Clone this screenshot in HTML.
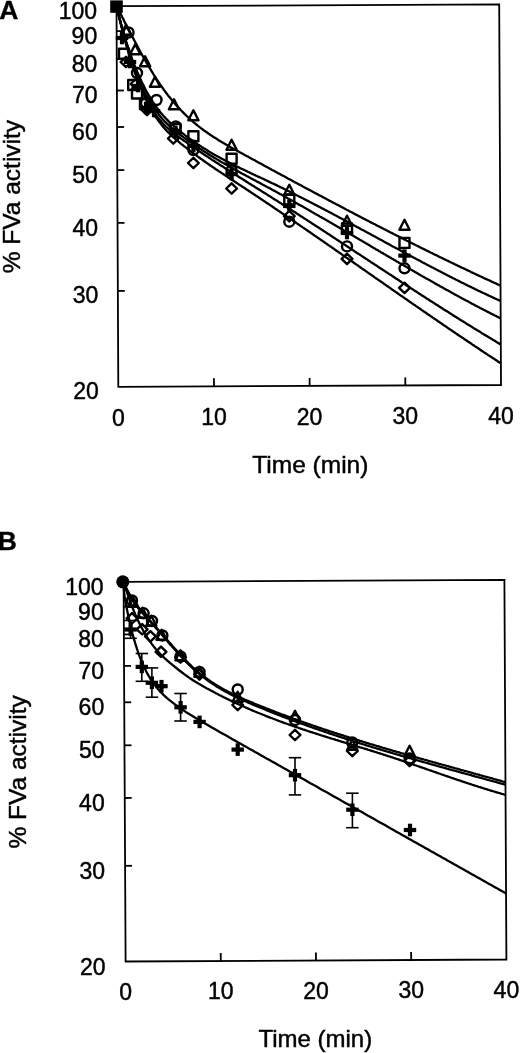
<!DOCTYPE html>
<html><head><meta charset="utf-8"><title>FVa activity</title>
<style>html,body{margin:0;padding:0;background:#fff;width:520px;height:1053px;overflow:hidden}svg{display:block;will-change:transform}</style>
</head><body>
<svg width="520" height="1053" viewBox="0 0 520 1053">
<style>.t{font-family:"Liberation Sans",sans-serif;font-size:23px;fill:#000;stroke:#000;stroke-width:0.45px}.h{font-family:"Liberation Sans",sans-serif;font-size:24.5px;fill:#000;stroke:#000;stroke-width:0.45px}.b{font-family:"Liberation Sans",sans-serif;font-size:26.5px;font-weight:bold;fill:#000;stroke:#000;stroke-width:0.3px}.m{fill:none;stroke:#000;stroke-width:2.4;stroke-linejoin:round}</style>
<rect width="520" height="1053" fill="#fff"/>
<polygon points="116.5,6.2 499.2,4.4 501.0,385.0 118.3,386.8" fill="none" stroke="#000" stroke-width="1.8" stroke-linejoin="miter"/>
<line x1="116.6" y1="31.1" x2="123.6" y2="31.1" stroke="#000" stroke-width="1.8"/>
<line x1="116.7" y1="59.0" x2="123.7" y2="58.9" stroke="#000" stroke-width="1.8"/>
<line x1="116.9" y1="90.5" x2="123.9" y2="90.5" stroke="#000" stroke-width="1.8"/>
<line x1="117.1" y1="127.0" x2="124.1" y2="127.0" stroke="#000" stroke-width="1.8"/>
<line x1="117.3" y1="170.1" x2="124.3" y2="170.1" stroke="#000" stroke-width="1.8"/>
<line x1="117.5" y1="222.9" x2="124.5" y2="222.8" stroke="#000" stroke-width="1.8"/>
<line x1="117.8" y1="290.9" x2="124.8" y2="290.9" stroke="#000" stroke-width="1.8"/>
<line x1="214.0" y1="386.3" x2="213.9" y2="378.3" stroke="#000" stroke-width="1.8"/>
<line x1="309.6" y1="385.9" x2="309.6" y2="377.9" stroke="#000" stroke-width="1.8"/>
<line x1="405.3" y1="385.4" x2="405.3" y2="377.4" stroke="#000" stroke-width="1.8"/>
<polygon points="123.6,581.8 504.4,579.8 506.4,959.5 125.6,961.5" fill="none" stroke="#000" stroke-width="1.8" stroke-linejoin="miter"/>
<line x1="123.7" y1="606.7" x2="130.7" y2="606.6" stroke="#000" stroke-width="1.8"/>
<line x1="123.9" y1="634.4" x2="130.9" y2="634.4" stroke="#000" stroke-width="1.8"/>
<line x1="124.0" y1="665.9" x2="131.0" y2="665.9" stroke="#000" stroke-width="1.8"/>
<line x1="124.2" y1="702.3" x2="131.2" y2="702.3" stroke="#000" stroke-width="1.8"/>
<line x1="124.5" y1="745.3" x2="131.5" y2="745.3" stroke="#000" stroke-width="1.8"/>
<line x1="124.7" y1="798.0" x2="131.7" y2="797.9" stroke="#000" stroke-width="1.8"/>
<line x1="125.1" y1="865.8" x2="132.1" y2="865.8" stroke="#000" stroke-width="1.8"/>
<line x1="220.8" y1="961.0" x2="220.7" y2="953.0" stroke="#000" stroke-width="1.8"/>
<line x1="316.0" y1="960.5" x2="315.9" y2="952.5" stroke="#000" stroke-width="1.8"/>
<line x1="411.2" y1="960.0" x2="411.1" y2="952.0" stroke="#000" stroke-width="1.8"/>
<path d="M116.5,5.8 L117.8,8.3 L119.1,10.9 L120.4,13.4 L121.7,16.0 L123.0,18.5 L124.2,21.1 L125.5,23.6 L126.8,26.1 L128.1,28.6 L129.4,31.1 L130.7,33.6 L132.0,36.1 L133.3,38.5 L134.6,41.0 L135.9,43.4 L137.2,45.8 L138.5,48.2 L139.7,50.6 L141.0,53.0 L142.3,55.3 L143.6,57.6 L144.9,59.9 L146.2,62.1 L147.5,64.4 L148.8,66.6 L150.1,68.7 L151.4,70.9 L152.7,73.0 L153.9,75.0 L155.2,77.1 L156.5,79.1 L157.8,81.0 L159.1,83.0 L160.4,84.9 L161.7,86.7 L163.0,88.5 L164.3,90.3 L165.5,92.0 L166.8,93.7 L168.1,95.4 L169.4,97.0 L170.7,98.6 L172.0,100.2 L173.3,101.7 L174.6,103.2 L175.8,104.7 L177.1,106.1 L178.4,107.5 L179.7,108.9 L181.0,110.3 L182.3,111.6 L183.6,112.9 L184.8,114.2 L186.1,115.4 L187.4,116.6 L188.7,117.8 L190.0,119.0 L191.3,120.2 L192.6,121.3 L193.8,122.4 L195.1,123.5 L196.4,124.5 L197.7,125.6 L199.0,126.6 L200.3,127.6 L201.6,128.6 L202.8,129.5 L204.1,130.5 L205.4,131.4 L206.7,132.3 L208.0,133.2 L209.3,134.1 L210.5,135.0 L211.8,135.8 L213.1,136.7 L214.4,137.5 L215.7,138.3 L217.0,139.1 L218.2,139.9 L219.5,140.7 L220.8,141.5 L222.1,142.3 L223.4,143.0 L224.7,143.8 L225.9,144.5 L227.2,145.3 L228.5,146.0 L229.8,146.7 L231.1,147.4 L232.4,148.2 L233.6,148.9 L234.9,149.6 L236.2,150.3 L237.5,151.0 L238.8,151.7 L240.1,152.4 L241.3,153.1 L242.6,153.8 L243.9,154.5 L245.2,155.2 L246.5,155.9 L247.8,156.6 L249.0,157.3 L250.3,158.0 L251.6,158.7 L252.9,159.4 L254.2,160.1 L255.5,160.8 L256.7,161.5 L258.0,162.2 L259.3,162.9 L260.6,163.6 L261.9,164.3 L263.2,165.0 L264.4,165.7 L265.7,166.4 L267.0,167.1 L268.3,167.8 L269.6,168.5 L270.9,169.2 L272.1,169.9 L273.4,170.6 L274.7,171.3 L276.0,172.0 L277.3,172.7 L278.6,173.4 L279.8,174.0 L281.1,174.7 L282.4,175.4 L283.7,176.1 L285.0,176.8 L286.3,177.5 L287.5,178.2 L288.8,178.9 L290.1,179.6 L291.4,180.3 L292.7,181.0 L294.0,181.7 L295.2,182.4 L296.5,183.0 L297.8,183.7 L299.1,184.4 L300.4,185.1 L301.7,185.8 L302.9,186.5 L304.2,187.2 L305.5,187.9 L306.8,188.6 L308.1,189.2 L309.4,189.9 L310.6,190.6 L311.9,191.3 L313.2,192.0 L314.5,192.7 L315.8,193.4 L317.1,194.0 L318.3,194.7 L319.6,195.4 L320.9,196.1 L322.2,196.8 L323.5,197.5 L324.8,198.1 L326.0,198.8 L327.3,199.5 L328.6,200.2 L329.9,200.9 L331.2,201.5 L332.5,202.2 L333.7,202.9 L335.0,203.6 L336.3,204.3 L337.6,204.9 L338.9,205.6 L340.2,206.3 L341.4,207.0 L342.7,207.6 L344.0,208.3 L345.3,209.0 L346.6,209.7 L347.9,210.3 L349.1,211.0 L350.4,211.7 L351.7,212.3 L353.0,213.0 L354.3,213.7 L355.6,214.4 L356.8,215.0 L358.1,215.7 L359.4,216.4 L360.7,217.0 L362.0,217.7 L363.2,218.4 L364.5,219.0 L365.8,219.7 L367.1,220.4 L368.4,221.0 L369.7,221.7 L370.9,222.4 L372.2,223.0 L373.5,223.7 L374.8,224.3 L376.1,225.0 L377.4,225.7 L378.6,226.3 L379.9,227.0 L381.2,227.6 L382.5,228.3 L383.8,229.0 L385.1,229.6 L386.3,230.3 L387.6,230.9 L388.9,231.6 L390.2,232.2 L391.5,232.9 L392.8,233.5 L394.0,234.2 L395.3,234.8 L396.6,235.5 L397.9,236.1 L399.2,236.8 L400.5,237.4 L401.7,238.1 L403.0,238.7 L404.3,239.4 L405.6,240.0 L406.9,240.7 L408.2,241.3 L409.4,242.0 L410.7,242.6 L412.0,243.2 L413.3,243.9 L414.6,244.5 L415.9,245.2 L417.1,245.8 L418.4,246.4 L419.7,247.1 L421.0,247.7 L422.3,248.4 L423.6,249.0 L424.8,249.6 L426.1,250.3 L427.4,250.9 L428.7,251.5 L430.0,252.2 L431.2,252.8 L432.5,253.4 L433.8,254.1 L435.1,254.7 L436.4,255.3 L437.7,255.9 L438.9,256.6 L440.2,257.2 L441.5,257.8 L442.8,258.4 L444.1,259.1 L445.4,259.7 L446.6,260.3 L447.9,260.9 L449.2,261.5 L450.5,262.2 L451.8,262.8 L453.1,263.4 L454.3,264.0 L455.6,264.6 L456.9,265.2 L458.2,265.9 L459.5,266.5 L460.8,267.1 L462.0,267.7 L463.3,268.3 L464.6,268.9 L465.9,269.5 L467.2,270.1 L468.5,270.7 L469.7,271.3 L471.0,272.0 L472.3,272.6 L473.6,273.2 L474.9,273.8 L476.1,274.4 L477.4,275.0 L478.7,275.6 L480.0,276.2 L481.3,276.8 L482.6,277.4 L483.8,278.0 L485.1,278.6 L486.4,279.1 L487.7,279.7 L489.0,280.3 L490.3,280.9 L491.5,281.5 L492.8,282.1 L494.1,282.7 L495.4,283.3 L496.7,283.9 L498.0,284.5 L499.2,285.0 L500.5,285.6" fill="none" stroke="#000" stroke-width="2.3" stroke-linejoin="round"/>
<path d="M116.5,7.0 L117.8,12.1 L119.1,17.0 L120.4,21.8 L121.7,26.5 L123.0,31.0 L124.3,35.4 L125.6,39.6 L126.9,43.7 L128.2,47.7 L129.5,51.5 L130.8,55.2 L132.1,58.8 L133.4,62.3 L134.7,65.6 L136.0,68.8 L137.3,72.0 L138.6,75.0 L139.9,77.9 L141.2,80.7 L142.5,83.4 L143.8,86.0 L145.0,88.5 L146.3,91.0 L147.6,93.3 L148.9,95.5 L150.2,97.7 L151.5,99.8 L152.8,101.8 L154.1,103.7 L155.4,105.6 L156.7,107.4 L157.9,109.1 L159.2,110.8 L160.5,112.4 L161.8,113.9 L163.1,115.4 L164.4,116.9 L165.7,118.3 L167.0,119.6 L168.2,120.9 L169.5,122.2 L170.8,123.4 L172.1,124.6 L173.4,125.7 L174.7,126.9 L176.0,128.0 L177.2,129.1 L178.5,130.1 L179.8,131.2 L181.1,132.2 L182.4,133.2 L183.7,134.2 L184.9,135.2 L186.2,136.2 L187.5,137.1 L188.8,138.1 L190.1,139.0 L191.4,139.9 L192.7,140.8 L193.9,141.7 L195.2,142.6 L196.5,143.5 L197.8,144.4 L199.1,145.2 L200.4,146.0 L201.6,146.9 L202.9,147.7 L204.2,148.5 L205.5,149.3 L206.8,150.1 L208.1,150.9 L209.3,151.7 L210.6,152.4 L211.9,153.2 L213.2,153.9 L214.5,154.7 L215.8,155.4 L217.0,156.1 L218.3,156.8 L219.6,157.5 L220.9,158.2 L222.2,158.9 L223.5,159.6 L224.7,160.3 L226.0,161.0 L227.3,161.6 L228.6,162.3 L229.9,163.0 L231.2,163.6 L232.4,164.3 L233.7,164.9 L235.0,165.5 L236.3,166.2 L237.6,166.8 L238.9,167.4 L240.1,168.1 L241.4,168.7 L242.7,169.3 L244.0,169.9 L245.3,170.5 L246.6,171.1 L247.8,171.7 L249.1,172.3 L250.4,173.0 L251.7,173.6 L253.0,174.2 L254.2,174.8 L255.5,175.4 L256.8,176.0 L258.1,176.6 L259.4,177.1 L260.7,177.7 L261.9,178.3 L263.2,178.9 L264.5,179.5 L265.8,180.1 L267.1,180.8 L268.4,181.4 L269.6,182.0 L270.9,182.6 L272.2,183.2 L273.5,183.8 L274.8,184.4 L276.1,185.0 L277.3,185.6 L278.6,186.3 L279.9,186.9 L281.2,187.5 L282.5,188.1 L283.8,188.8 L285.0,189.4 L286.3,190.0 L287.6,190.7 L288.9,191.3 L290.2,191.9 L291.5,192.6 L292.7,193.2 L294.0,193.9 L295.3,194.5 L296.6,195.2 L297.9,195.8 L299.1,196.5 L300.4,197.1 L301.7,197.8 L303.0,198.4 L304.3,199.1 L305.6,199.7 L306.8,200.4 L308.1,201.0 L309.4,201.7 L310.7,202.4 L312.0,203.0 L313.3,203.7 L314.5,204.4 L315.8,205.0 L317.1,205.7 L318.4,206.4 L319.7,207.0 L321.0,207.7 L322.2,208.4 L323.5,209.0 L324.8,209.7 L326.1,210.4 L327.4,211.1 L328.7,211.8 L329.9,212.4 L331.2,213.1 L332.5,213.8 L333.8,214.5 L335.1,215.2 L336.4,215.8 L337.6,216.5 L338.9,217.2 L340.2,217.9 L341.5,218.6 L342.8,219.3 L344.1,220.0 L345.3,220.7 L346.6,221.3 L347.9,222.0 L349.2,222.7 L350.5,223.4 L351.8,224.1 L353.0,224.8 L354.3,225.5 L355.6,226.2 L356.9,226.9 L358.2,227.6 L359.5,228.3 L360.7,229.0 L362.0,229.7 L363.3,230.3 L364.6,231.0 L365.9,231.7 L367.2,232.4 L368.4,233.1 L369.7,233.8 L371.0,234.5 L372.3,235.2 L373.6,235.9 L374.9,236.6 L376.1,237.3 L377.4,238.0 L378.7,238.7 L380.0,239.4 L381.3,240.1 L382.6,240.8 L383.8,241.5 L385.1,242.2 L386.4,242.9 L387.7,243.6 L389.0,244.3 L390.3,245.0 L391.5,245.7 L392.8,246.4 L394.1,247.1 L395.4,247.7 L396.7,248.4 L398.0,249.1 L399.2,249.8 L400.5,250.5 L401.8,251.2 L403.1,251.9 L404.4,252.6 L405.7,253.3 L406.9,254.0 L408.2,254.7 L409.5,255.3 L410.8,256.0 L412.1,256.7 L413.4,257.4 L414.6,258.1 L415.9,258.8 L417.2,259.5 L418.5,260.1 L419.8,260.8 L421.1,261.5 L422.3,262.2 L423.6,262.9 L424.9,263.5 L426.2,264.2 L427.5,264.9 L428.7,265.6 L430.0,266.3 L431.3,266.9 L432.6,267.6 L433.9,268.3 L435.2,268.9 L436.4,269.6 L437.7,270.3 L439.0,270.9 L440.3,271.6 L441.6,272.3 L442.9,272.9 L444.1,273.6 L445.4,274.3 L446.7,274.9 L448.0,275.6 L449.3,276.2 L450.6,276.9 L451.8,277.5 L453.1,278.2 L454.4,278.8 L455.7,279.5 L457.0,280.1 L458.3,280.8 L459.5,281.4 L460.8,282.1 L462.1,282.7 L463.4,283.3 L464.7,284.0 L466.0,284.6 L467.2,285.2 L468.5,285.9 L469.8,286.5 L471.1,287.1 L472.4,287.8 L473.7,288.4 L474.9,289.0 L476.2,289.6 L477.5,290.2 L478.8,290.9 L480.1,291.5 L481.4,292.1 L482.6,292.7 L483.9,293.3 L485.2,293.9 L486.5,294.5 L487.8,295.1 L489.0,295.7 L490.3,296.3 L491.6,296.9 L492.9,297.5 L494.2,298.1 L495.5,298.7 L496.7,299.3 L498.0,299.8 L499.3,300.4 L500.6,301.0" fill="none" stroke="#000" stroke-width="2.3" stroke-linejoin="round"/>
<path d="M116.5,5.6 L117.8,11.2 L119.1,16.6 L120.4,21.8 L121.7,26.9 L123.0,31.8 L124.3,36.6 L125.6,41.2 L126.9,45.6 L128.2,49.9 L129.5,54.0 L130.8,58.0 L132.1,61.8 L133.4,65.5 L134.7,69.0 L136.0,72.5 L137.3,75.7 L138.6,78.9 L139.9,81.9 L141.2,84.9 L142.5,87.7 L143.8,90.4 L145.1,92.9 L146.4,95.4 L147.7,97.8 L148.9,100.1 L150.2,102.3 L151.5,104.4 L152.8,106.4 L154.1,108.3 L155.4,110.1 L156.7,111.9 L158.0,113.6 L159.3,115.2 L160.5,116.8 L161.8,118.3 L163.1,119.7 L164.4,121.1 L165.7,122.4 L167.0,123.7 L168.3,124.9 L169.5,126.1 L170.8,127.2 L172.1,128.3 L173.4,129.4 L174.7,130.5 L176.0,131.5 L177.3,132.5 L178.5,133.5 L179.8,134.5 L181.1,135.5 L182.4,136.4 L183.7,137.4 L185.0,138.3 L186.2,139.3 L187.5,140.2 L188.8,141.1 L190.1,142.0 L191.4,142.9 L192.7,143.8 L193.9,144.7 L195.2,145.6 L196.5,146.4 L197.8,147.3 L199.1,148.1 L200.4,149.0 L201.7,149.8 L202.9,150.7 L204.2,151.5 L205.5,152.3 L206.8,153.1 L208.1,153.9 L209.4,154.7 L210.6,155.5 L211.9,156.3 L213.2,157.1 L214.5,157.9 L215.8,158.6 L217.1,159.4 L218.3,160.1 L219.6,160.9 L220.9,161.7 L222.2,162.4 L223.5,163.1 L224.8,163.9 L226.0,164.6 L227.3,165.3 L228.6,166.1 L229.9,166.8 L231.2,167.5 L232.5,168.2 L233.7,169.0 L235.0,169.7 L236.3,170.4 L237.6,171.1 L238.9,171.8 L240.2,172.5 L241.4,173.2 L242.7,173.9 L244.0,174.6 L245.3,175.3 L246.6,176.0 L247.9,176.6 L249.1,177.3 L250.4,178.0 L251.7,178.7 L253.0,179.4 L254.3,180.1 L255.6,180.8 L256.8,181.5 L258.1,182.1 L259.4,182.8 L260.7,183.5 L262.0,184.2 L263.3,184.9 L264.5,185.6 L265.8,186.3 L267.1,187.0 L268.4,187.6 L269.7,188.3 L271.0,189.0 L272.2,189.7 L273.5,190.4 L274.8,191.1 L276.1,191.8 L277.4,192.5 L278.7,193.2 L279.9,193.9 L281.2,194.6 L282.5,195.3 L283.8,196.1 L285.1,196.8 L286.4,197.5 L287.6,198.2 L288.9,198.9 L290.2,199.6 L291.5,200.3 L292.8,201.1 L294.1,201.8 L295.3,202.5 L296.6,203.2 L297.9,203.9 L299.2,204.7 L300.5,205.4 L301.8,206.1 L303.0,206.8 L304.3,207.6 L305.6,208.3 L306.9,209.0 L308.2,209.8 L309.5,210.5 L310.7,211.2 L312.0,212.0 L313.3,212.7 L314.6,213.4 L315.9,214.2 L317.2,214.9 L318.4,215.6 L319.7,216.4 L321.0,217.1 L322.3,217.9 L323.6,218.6 L324.9,219.3 L326.1,220.1 L327.4,220.8 L328.7,221.6 L330.0,222.3 L331.3,223.1 L332.6,223.8 L333.8,224.6 L335.1,225.3 L336.4,226.1 L337.7,226.8 L339.0,227.5 L340.3,228.3 L341.5,229.0 L342.8,229.8 L344.1,230.5 L345.4,231.3 L346.7,232.0 L348.0,232.8 L349.2,233.6 L350.5,234.3 L351.8,235.1 L353.1,235.8 L354.4,236.6 L355.7,237.3 L356.9,238.1 L358.2,238.8 L359.5,239.6 L360.8,240.3 L362.1,241.1 L363.4,241.8 L364.6,242.6 L365.9,243.3 L367.2,244.1 L368.5,244.8 L369.8,245.6 L371.1,246.4 L372.3,247.1 L373.6,247.9 L374.9,248.6 L376.2,249.4 L377.5,250.1 L378.8,250.9 L380.0,251.6 L381.3,252.4 L382.6,253.1 L383.9,253.9 L385.2,254.6 L386.5,255.4 L387.7,256.1 L389.0,256.9 L390.3,257.6 L391.6,258.4 L392.9,259.1 L394.2,259.9 L395.4,260.6 L396.7,261.4 L398.0,262.1 L399.3,262.9 L400.6,263.6 L401.9,264.4 L403.1,265.1 L404.4,265.8 L405.7,266.6 L407.0,267.3 L408.3,268.1 L409.6,268.8 L410.8,269.6 L412.1,270.3 L413.4,271.0 L414.7,271.8 L416.0,272.5 L417.3,273.3 L418.5,274.0 L419.8,274.7 L421.1,275.5 L422.4,276.2 L423.7,276.9 L425.0,277.7 L426.2,278.4 L427.5,279.1 L428.8,279.8 L430.1,280.6 L431.4,281.3 L432.7,282.0 L434.0,282.8 L435.2,283.5 L436.5,284.2 L437.8,284.9 L439.1,285.6 L440.4,286.4 L441.7,287.1 L442.9,287.8 L444.2,288.5 L445.5,289.2 L446.8,289.9 L448.1,290.6 L449.4,291.3 L450.6,292.1 L451.9,292.8 L453.2,293.5 L454.5,294.2 L455.8,294.9 L457.0,295.6 L458.3,296.3 L459.6,297.0 L460.9,297.7 L462.2,298.4 L463.5,299.1 L464.7,299.7 L466.0,300.4 L467.3,301.1 L468.6,301.8 L469.9,302.5 L471.2,303.2 L472.4,303.9 L473.7,304.5 L475.0,305.2 L476.3,305.9 L477.6,306.6 L478.9,307.2 L480.1,307.9 L481.4,308.6 L482.7,309.2 L484.0,309.9 L485.3,310.6 L486.6,311.2 L487.8,311.9 L489.1,312.5 L490.4,313.2 L491.7,313.9 L493.0,314.5 L494.3,315.2 L495.5,315.8 L496.8,316.4 L498.1,317.1 L499.4,317.7 L500.7,318.4" fill="none" stroke="#000" stroke-width="2.3" stroke-linejoin="round"/>
<path d="M116.5,5.3 L117.8,10.9 L119.1,16.4 L120.4,21.7 L121.7,26.9 L123.0,31.9 L124.3,36.8 L125.6,41.5 L126.9,46.1 L128.2,50.5 L129.5,54.8 L130.8,59.0 L132.1,63.0 L133.4,66.9 L134.7,70.7 L136.0,74.3 L137.3,77.8 L138.6,81.2 L139.9,84.4 L141.2,87.5 L142.5,90.5 L143.8,93.4 L145.1,96.1 L146.4,98.8 L147.7,101.3 L149.0,103.7 L150.2,106.0 L151.5,108.2 L152.8,110.3 L154.1,112.2 L155.4,114.1 L156.7,115.9 L158.0,117.6 L159.3,119.3 L160.6,120.8 L161.8,122.3 L163.1,123.7 L164.4,125.0 L165.7,126.3 L167.0,127.5 L168.3,128.7 L169.6,129.8 L170.8,130.9 L172.1,132.0 L173.4,133.0 L174.7,134.0 L176.0,134.9 L177.3,135.9 L178.6,136.8 L179.8,137.7 L181.1,138.7 L182.4,139.6 L183.7,140.5 L185.0,141.4 L186.3,142.3 L187.5,143.2 L188.8,144.1 L190.1,145.0 L191.4,145.9 L192.7,146.8 L194.0,147.6 L195.2,148.5 L196.5,149.4 L197.8,150.3 L199.1,151.1 L200.4,152.0 L201.7,152.9 L203.0,153.7 L204.2,154.6 L205.5,155.4 L206.8,156.3 L208.1,157.1 L209.4,158.0 L210.7,158.8 L211.9,159.7 L213.2,160.5 L214.5,161.3 L215.8,162.2 L217.1,163.0 L218.4,163.8 L219.6,164.7 L220.9,165.5 L222.2,166.3 L223.5,167.1 L224.8,168.0 L226.1,168.8 L227.3,169.6 L228.6,170.4 L229.9,171.2 L231.2,172.1 L232.5,172.9 L233.8,173.7 L235.0,174.5 L236.3,175.3 L237.6,176.1 L238.9,176.9 L240.2,177.7 L241.5,178.5 L242.8,179.3 L244.0,180.1 L245.3,180.9 L246.6,181.7 L247.9,182.6 L249.2,183.4 L250.5,184.2 L251.7,185.0 L253.0,185.8 L254.3,186.6 L255.6,187.4 L256.9,188.2 L258.2,189.0 L259.4,189.8 L260.7,190.6 L262.0,191.4 L263.3,192.2 L264.6,193.0 L265.9,193.8 L267.1,194.6 L268.4,195.4 L269.7,196.2 L271.0,197.0 L272.3,197.9 L273.6,198.7 L274.8,199.5 L276.1,200.3 L277.4,201.1 L278.7,201.9 L280.0,202.7 L281.3,203.6 L282.5,204.4 L283.8,205.2 L285.1,206.0 L286.4,206.8 L287.7,207.7 L289.0,208.5 L290.2,209.3 L291.5,210.1 L292.8,211.0 L294.1,211.8 L295.4,212.6 L296.7,213.4 L298.0,214.3 L299.2,215.1 L300.5,215.9 L301.8,216.7 L303.1,217.6 L304.4,218.4 L305.7,219.2 L306.9,220.1 L308.2,220.9 L309.5,221.7 L310.8,222.6 L312.1,223.4 L313.4,224.2 L314.6,225.1 L315.9,225.9 L317.2,226.8 L318.5,227.6 L319.8,228.4 L321.1,229.3 L322.3,230.1 L323.6,230.9 L324.9,231.8 L326.2,232.6 L327.5,233.5 L328.8,234.3 L330.1,235.1 L331.3,236.0 L332.6,236.8 L333.9,237.7 L335.2,238.5 L336.5,239.4 L337.8,240.2 L339.0,241.0 L340.3,241.9 L341.6,242.7 L342.9,243.6 L344.2,244.4 L345.5,245.3 L346.7,246.1 L348.0,246.9 L349.3,247.8 L350.6,248.6 L351.9,249.5 L353.2,250.3 L354.4,251.2 L355.7,252.0 L357.0,252.9 L358.3,253.7 L359.6,254.5 L360.9,255.4 L362.1,256.2 L363.4,257.1 L364.7,257.9 L366.0,258.8 L367.3,259.6 L368.6,260.5 L369.9,261.3 L371.1,262.2 L372.4,263.0 L373.7,263.8 L375.0,264.7 L376.3,265.5 L377.6,266.4 L378.8,267.2 L380.1,268.1 L381.4,268.9 L382.7,269.7 L384.0,270.6 L385.3,271.4 L386.5,272.3 L387.8,273.1 L389.1,274.0 L390.4,274.8 L391.7,275.6 L393.0,276.5 L394.2,277.3 L395.5,278.2 L396.8,279.0 L398.1,279.8 L399.4,280.7 L400.7,281.5 L401.9,282.4 L403.2,283.2 L404.5,284.0 L405.8,284.9 L407.1,285.7 L408.4,286.5 L409.7,287.4 L410.9,288.2 L412.2,289.0 L413.5,289.9 L414.8,290.7 L416.1,291.5 L417.4,292.4 L418.6,293.2 L419.9,294.0 L421.2,294.9 L422.5,295.7 L423.8,296.5 L425.1,297.4 L426.3,298.2 L427.6,299.0 L428.9,299.8 L430.2,300.7 L431.5,301.5 L432.8,302.3 L434.0,303.1 L435.3,303.9 L436.6,304.8 L437.9,305.6 L439.2,306.4 L440.5,307.2 L441.7,308.0 L443.0,308.9 L444.3,309.7 L445.6,310.5 L446.9,311.3 L448.2,312.1 L449.5,312.9 L450.7,313.7 L452.0,314.6 L453.3,315.4 L454.6,316.2 L455.9,317.0 L457.2,317.8 L458.4,318.6 L459.7,319.4 L461.0,320.2 L462.3,321.0 L463.6,321.8 L464.9,322.6 L466.1,323.4 L467.4,324.2 L468.7,325.0 L470.0,325.8 L471.3,326.6 L472.6,327.4 L473.8,328.2 L475.1,328.9 L476.4,329.7 L477.7,330.5 L479.0,331.3 L480.3,332.1 L481.5,332.9 L482.8,333.7 L484.1,334.4 L485.4,335.2 L486.7,336.0 L488.0,336.8 L489.2,337.6 L490.5,338.3 L491.8,339.1 L493.1,339.9 L494.4,340.6 L495.7,341.4 L496.9,342.2 L498.2,342.9 L499.5,343.7 L500.8,344.5" fill="none" stroke="#000" stroke-width="2.3" stroke-linejoin="round"/>
<path d="M116.5,5.4 L117.8,11.2 L119.1,16.9 L120.4,22.3 L121.7,27.6 L123.0,32.7 L124.3,37.7 L125.6,42.5 L126.9,47.2 L128.2,51.7 L129.5,56.1 L130.8,60.3 L132.1,64.3 L133.4,68.3 L134.7,72.1 L136.0,75.7 L137.3,79.3 L138.6,82.7 L139.9,85.9 L141.2,89.1 L142.5,92.1 L143.8,95.0 L145.1,97.8 L146.4,100.5 L147.7,103.1 L149.0,105.6 L150.3,107.9 L151.5,110.2 L152.8,112.4 L154.1,114.5 L155.4,116.5 L156.7,118.4 L158.0,120.2 L159.3,121.9 L160.6,123.6 L161.9,125.2 L163.1,126.8 L164.4,128.3 L165.7,129.7 L167.0,131.1 L168.3,132.4 L169.6,133.7 L170.9,134.9 L172.1,136.1 L173.4,137.3 L174.7,138.4 L176.0,139.5 L177.3,140.6 L178.6,141.7 L179.9,142.8 L181.1,143.8 L182.4,144.8 L183.7,145.9 L185.0,146.9 L186.3,147.9 L187.6,148.9 L188.9,149.9 L190.1,150.9 L191.4,151.9 L192.7,152.8 L194.0,153.8 L195.3,154.7 L196.6,155.7 L197.8,156.6 L199.1,157.5 L200.4,158.5 L201.7,159.4 L203.0,160.3 L204.3,161.2 L205.6,162.1 L206.8,163.0 L208.1,163.9 L209.4,164.8 L210.7,165.7 L212.0,166.5 L213.3,167.4 L214.5,168.3 L215.8,169.2 L217.1,170.0 L218.4,170.9 L219.7,171.7 L221.0,172.6 L222.2,173.4 L223.5,174.3 L224.8,175.1 L226.1,176.0 L227.4,176.8 L228.7,177.7 L229.9,178.5 L231.2,179.4 L232.5,180.2 L233.8,181.0 L235.1,181.9 L236.4,182.7 L237.7,183.6 L238.9,184.4 L240.2,185.2 L241.5,186.1 L242.8,186.9 L244.1,187.8 L245.4,188.6 L246.6,189.5 L247.9,190.3 L249.2,191.2 L250.5,192.0 L251.8,192.9 L253.1,193.7 L254.3,194.6 L255.6,195.4 L256.9,196.3 L258.2,197.1 L259.5,198.0 L260.8,198.9 L262.0,199.7 L263.3,200.6 L264.6,201.4 L265.9,202.3 L267.2,203.2 L268.5,204.0 L269.8,204.9 L271.0,205.8 L272.3,206.6 L273.6,207.5 L274.9,208.4 L276.2,209.2 L277.5,210.1 L278.7,211.0 L280.0,211.8 L281.3,212.7 L282.6,213.6 L283.9,214.4 L285.2,215.3 L286.4,216.2 L287.7,217.1 L289.0,217.9 L290.3,218.8 L291.6,219.7 L292.9,220.6 L294.1,221.5 L295.4,222.3 L296.7,223.2 L298.0,224.1 L299.3,225.0 L300.6,225.9 L301.9,226.7 L303.1,227.6 L304.4,228.5 L305.7,229.4 L307.0,230.3 L308.3,231.2 L309.6,232.0 L310.8,232.9 L312.1,233.8 L313.4,234.7 L314.7,235.6 L316.0,236.5 L317.3,237.4 L318.5,238.2 L319.8,239.1 L321.1,240.0 L322.4,240.9 L323.7,241.8 L325.0,242.7 L326.3,243.6 L327.5,244.5 L328.8,245.4 L330.1,246.3 L331.4,247.1 L332.7,248.0 L334.0,248.9 L335.2,249.8 L336.5,250.7 L337.8,251.6 L339.1,252.5 L340.4,253.4 L341.7,254.3 L342.9,255.2 L344.2,256.1 L345.5,257.0 L346.8,257.9 L348.1,258.8 L349.4,259.7 L350.6,260.5 L351.9,261.4 L353.2,262.3 L354.5,263.2 L355.8,264.1 L357.1,265.0 L358.4,265.9 L359.6,266.8 L360.9,267.7 L362.2,268.6 L363.5,269.5 L364.8,270.4 L366.1,271.3 L367.3,272.2 L368.6,273.1 L369.9,274.0 L371.2,274.9 L372.5,275.8 L373.8,276.7 L375.0,277.6 L376.3,278.5 L377.6,279.4 L378.9,280.3 L380.2,281.1 L381.5,282.0 L382.8,282.9 L384.0,283.8 L385.3,284.7 L386.6,285.6 L387.9,286.5 L389.2,287.4 L390.5,288.3 L391.7,289.2 L393.0,290.1 L394.3,291.0 L395.6,291.9 L396.9,292.8 L398.2,293.7 L399.4,294.6 L400.7,295.5 L402.0,296.3 L403.3,297.2 L404.6,298.1 L405.9,299.0 L407.2,299.9 L408.4,300.8 L409.7,301.7 L411.0,302.6 L412.3,303.5 L413.6,304.4 L414.9,305.2 L416.1,306.1 L417.4,307.0 L418.7,307.9 L420.0,308.8 L421.3,309.7 L422.6,310.6 L423.8,311.5 L425.1,312.3 L426.4,313.2 L427.7,314.1 L429.0,315.0 L430.3,315.9 L431.6,316.8 L432.8,317.6 L434.1,318.5 L435.4,319.4 L436.7,320.3 L438.0,321.2 L439.3,322.0 L440.5,322.9 L441.8,323.8 L443.1,324.7 L444.4,325.6 L445.7,326.4 L447.0,327.3 L448.2,328.2 L449.5,329.1 L450.8,329.9 L452.1,330.8 L453.4,331.7 L454.7,332.5 L455.9,333.4 L457.2,334.3 L458.5,335.2 L459.8,336.0 L461.1,336.9 L462.4,337.8 L463.7,338.6 L464.9,339.5 L466.2,340.3 L467.5,341.2 L468.8,342.1 L470.1,342.9 L471.4,343.8 L472.6,344.7 L473.9,345.5 L475.2,346.4 L476.5,347.2 L477.8,348.1 L479.1,348.9 L480.3,349.8 L481.6,350.7 L482.9,351.5 L484.2,352.4 L485.5,353.2 L486.8,354.1 L488.0,354.9 L489.3,355.7 L490.6,356.6 L491.9,357.4 L493.2,358.3 L494.5,359.1 L495.8,360.0 L497.0,360.8 L498.3,361.7 L499.6,362.5 L500.9,363.3" fill="none" stroke="#000" stroke-width="2.3" stroke-linejoin="round"/>
<path d="M123.6,582.2 L124.9,585.2 L126.2,587.9 L127.5,590.5 L128.8,592.9 L130.0,595.2 L131.3,597.3 L132.6,599.3 L133.9,601.3 L135.2,603.1 L136.5,604.8 L137.7,606.4 L139.0,608.0 L140.3,609.6 L141.6,611.1 L142.9,612.5 L144.1,614.0 L145.4,615.5 L146.7,616.9 L148.0,618.3 L149.3,619.8 L150.6,621.2 L151.8,622.6 L153.1,624.0 L154.4,625.5 L155.7,626.9 L157.0,628.3 L158.2,629.7 L159.5,631.2 L160.8,632.6 L162.1,634.1 L163.4,635.5 L164.6,637.0 L165.9,638.4 L167.2,639.9 L168.5,641.4 L169.8,642.9 L171.1,644.3 L172.3,645.8 L173.6,647.2 L174.9,648.7 L176.2,650.1 L177.5,651.6 L178.7,653.0 L180.0,654.4 L181.3,655.8 L182.6,657.2 L183.9,658.5 L185.1,659.8 L186.4,661.1 L187.7,662.4 L189.0,663.7 L190.3,664.9 L191.5,666.1 L192.8,667.3 L194.1,668.4 L195.4,669.5 L196.7,670.6 L197.9,671.7 L199.2,672.8 L200.5,673.8 L201.8,674.8 L203.1,675.8 L204.3,676.8 L205.6,677.7 L206.9,678.7 L208.2,679.6 L209.4,680.5 L210.7,681.4 L212.0,682.2 L213.3,683.1 L214.6,683.9 L215.8,684.7 L217.1,685.5 L218.4,686.3 L219.7,687.0 L220.9,687.8 L222.2,688.5 L223.5,689.2 L224.8,689.9 L226.1,690.6 L227.3,691.3 L228.6,691.9 L229.9,692.6 L231.2,693.2 L232.4,693.9 L233.7,694.5 L235.0,695.1 L236.3,695.7 L237.5,696.3 L238.8,696.9 L240.1,697.5 L241.4,698.1 L242.7,698.6 L243.9,699.2 L245.2,699.7 L246.5,700.3 L247.8,700.8 L249.0,701.4 L250.3,701.9 L251.6,702.4 L252.9,702.9 L254.1,703.5 L255.4,704.0 L256.7,704.5 L258.0,705.0 L259.2,705.5 L260.5,706.1 L261.8,706.6 L263.1,707.1 L264.4,707.6 L265.6,708.1 L266.9,708.6 L268.2,709.1 L269.5,709.6 L270.7,710.1 L272.0,710.6 L273.3,711.1 L274.6,711.6 L275.8,712.1 L277.1,712.5 L278.4,713.0 L279.7,713.5 L280.9,714.0 L282.2,714.5 L283.5,714.9 L284.8,715.4 L286.0,715.9 L287.3,716.4 L288.6,716.8 L289.9,717.3 L291.2,717.8 L292.4,718.2 L293.7,718.7 L295.0,719.2 L296.3,719.6 L297.5,720.1 L298.8,720.6 L300.1,721.0 L301.4,721.5 L302.6,721.9 L303.9,722.4 L305.2,722.8 L306.5,723.3 L307.7,723.7 L309.0,724.2 L310.3,724.6 L311.6,725.0 L312.8,725.5 L314.1,725.9 L315.4,726.4 L316.7,726.8 L317.9,727.2 L319.2,727.7 L320.5,728.1 L321.8,728.5 L323.1,729.0 L324.3,729.4 L325.6,729.8 L326.9,730.2 L328.2,730.7 L329.4,731.1 L330.7,731.5 L332.0,731.9 L333.3,732.3 L334.5,732.8 L335.8,733.2 L337.1,733.6 L338.4,734.0 L339.6,734.4 L340.9,734.8 L342.2,735.2 L343.5,735.6 L344.7,736.0 L346.0,736.4 L347.3,736.9 L348.6,737.3 L349.8,737.7 L351.1,738.1 L352.4,738.5 L353.7,738.9 L354.9,739.3 L356.2,739.7 L357.5,740.0 L358.8,740.4 L360.0,740.8 L361.3,741.2 L362.6,741.6 L363.9,742.0 L365.2,742.4 L366.4,742.8 L367.7,743.2 L369.0,743.6 L370.3,744.0 L371.5,744.3 L372.8,744.7 L374.1,745.1 L375.4,745.5 L376.6,745.9 L377.9,746.2 L379.2,746.6 L380.5,747.0 L381.7,747.4 L383.0,747.8 L384.3,748.1 L385.6,748.5 L386.8,748.9 L388.1,749.3 L389.4,749.6 L390.7,750.0 L391.9,750.4 L393.2,750.8 L394.5,751.1 L395.8,751.5 L397.0,751.9 L398.3,752.2 L399.6,752.6 L400.9,753.0 L402.1,753.3 L403.4,753.7 L404.7,754.1 L406.0,754.4 L407.2,754.8 L408.5,755.2 L409.8,755.5 L411.1,755.9 L412.3,756.2 L413.6,756.6 L414.9,757.0 L416.2,757.3 L417.4,757.7 L418.7,758.1 L420.0,758.4 L421.3,758.8 L422.5,759.1 L423.8,759.5 L425.1,759.8 L426.4,760.2 L427.7,760.6 L428.9,760.9 L430.2,761.3 L431.5,761.6 L432.8,762.0 L434.0,762.3 L435.3,762.7 L436.6,763.1 L437.9,763.4 L439.1,763.8 L440.4,764.1 L441.7,764.5 L443.0,764.8 L444.2,765.2 L445.5,765.5 L446.8,765.9 L448.1,766.2 L449.3,766.6 L450.6,766.9 L451.9,767.3 L453.2,767.6 L454.4,768.0 L455.7,768.4 L457.0,768.7 L458.3,769.1 L459.5,769.4 L460.8,769.8 L462.1,770.1 L463.4,770.5 L464.6,770.8 L465.9,771.2 L467.2,771.5 L468.5,771.9 L469.7,772.2 L471.0,772.6 L472.3,772.9 L473.6,773.3 L474.8,773.6 L476.1,774.0 L477.4,774.3 L478.7,774.7 L479.9,775.1 L481.2,775.4 L482.5,775.8 L483.8,776.1 L485.0,776.5 L486.3,776.8 L487.6,777.2 L488.9,777.5 L490.1,777.9 L491.4,778.2 L492.7,778.6 L494.0,779.0 L495.3,779.3 L496.5,779.7 L497.8,780.0 L499.1,780.4 L500.4,780.7 L501.6,781.1 L502.9,781.5 L504.2,781.8 L505.5,782.2" fill="none" stroke="#000" stroke-width="2.3" stroke-linejoin="round"/>
<path d="M123.6,582.2 L124.9,585.4 L126.2,588.5 L127.5,591.3 L128.8,593.9 L130.0,596.3 L131.3,598.5 L132.6,600.6 L133.9,602.5 L135.2,604.3 L136.5,606.0 L137.7,607.6 L139.0,609.1 L140.3,610.6 L141.6,612.1 L142.9,613.5 L144.2,614.9 L145.4,616.3 L146.7,617.7 L148.0,619.1 L149.3,620.5 L150.6,622.0 L151.8,623.4 L153.1,624.8 L154.4,626.3 L155.7,627.7 L157.0,629.2 L158.2,630.6 L159.5,632.1 L160.8,633.5 L162.1,635.0 L163.4,636.5 L164.6,638.0 L165.9,639.5 L167.2,640.9 L168.5,642.4 L169.8,643.9 L171.1,645.4 L172.3,646.9 L173.6,648.3 L174.9,649.8 L176.2,651.2 L177.5,652.7 L178.7,654.1 L180.0,655.5 L181.3,656.9 L182.6,658.2 L183.9,659.6 L185.1,660.9 L186.4,662.2 L187.7,663.5 L189.0,664.8 L190.3,666.0 L191.5,667.2 L192.8,668.4 L194.1,669.5 L195.4,670.6 L196.7,671.8 L197.9,672.8 L199.2,673.9 L200.5,674.9 L201.8,676.0 L203.1,677.0 L204.3,677.9 L205.6,678.9 L206.9,679.8 L208.2,680.8 L209.5,681.7 L210.7,682.6 L212.0,683.4 L213.3,684.3 L214.6,685.1 L215.8,685.9 L217.1,686.7 L218.4,687.5 L219.7,688.3 L221.0,689.0 L222.2,689.8 L223.5,690.5 L224.8,691.2 L226.1,691.9 L227.3,692.6 L228.6,693.3 L229.9,694.0 L231.2,694.6 L232.4,695.3 L233.7,695.9 L235.0,696.5 L236.3,697.2 L237.6,697.8 L238.8,698.4 L240.1,699.0 L241.4,699.6 L242.7,700.1 L243.9,700.7 L245.2,701.3 L246.5,701.8 L247.8,702.4 L249.0,702.9 L250.3,703.5 L251.6,704.0 L252.9,704.6 L254.2,705.1 L255.4,705.6 L256.7,706.2 L258.0,706.7 L259.3,707.2 L260.5,707.8 L261.8,708.3 L263.1,708.8 L264.4,709.3 L265.6,709.8 L266.9,710.4 L268.2,710.9 L269.5,711.4 L270.7,711.9 L272.0,712.4 L273.3,712.9 L274.6,713.4 L275.8,713.9 L277.1,714.4 L278.4,714.9 L279.7,715.4 L281.0,715.9 L282.2,716.4 L283.5,716.9 L284.8,717.4 L286.1,717.9 L287.3,718.3 L288.6,718.8 L289.9,719.3 L291.2,719.8 L292.4,720.3 L293.7,720.7 L295.0,721.2 L296.3,721.7 L297.5,722.2 L298.8,722.6 L300.1,723.1 L301.4,723.6 L302.6,724.0 L303.9,724.5 L305.2,724.9 L306.5,725.4 L307.8,725.9 L309.0,726.3 L310.3,726.8 L311.6,727.2 L312.9,727.7 L314.1,728.1 L315.4,728.6 L316.7,729.0 L318.0,729.4 L319.2,729.9 L320.5,730.3 L321.8,730.8 L323.1,731.2 L324.3,731.6 L325.6,732.1 L326.9,732.5 L328.2,732.9 L329.4,733.4 L330.7,733.8 L332.0,734.2 L333.3,734.7 L334.5,735.1 L335.8,735.5 L337.1,735.9 L338.4,736.4 L339.6,736.8 L340.9,737.2 L342.2,737.6 L343.5,738.0 L344.8,738.4 L346.0,738.9 L347.3,739.3 L348.6,739.7 L349.9,740.1 L351.1,740.5 L352.4,740.9 L353.7,741.3 L355.0,741.7 L356.2,742.1 L357.5,742.5 L358.8,742.9 L360.1,743.3 L361.3,743.7 L362.6,744.1 L363.9,744.5 L365.2,744.9 L366.4,745.3 L367.7,745.7 L369.0,746.1 L370.3,746.5 L371.5,746.9 L372.8,747.3 L374.1,747.7 L375.4,748.0 L376.6,748.4 L377.9,748.8 L379.2,749.2 L380.5,749.6 L381.7,750.0 L383.0,750.3 L384.3,750.7 L385.6,751.1 L386.8,751.5 L388.1,751.9 L389.4,752.2 L390.7,752.6 L392.0,753.0 L393.2,753.4 L394.5,753.7 L395.8,754.1 L397.1,754.5 L398.3,754.9 L399.6,755.2 L400.9,755.6 L402.2,756.0 L403.4,756.3 L404.7,756.7 L406.0,757.1 L407.3,757.4 L408.5,757.8 L409.8,758.2 L411.1,758.5 L412.4,758.9 L413.6,759.3 L414.9,759.6 L416.2,760.0 L417.5,760.4 L418.7,760.7 L420.0,761.1 L421.3,761.4 L422.6,761.8 L423.8,762.2 L425.1,762.5 L426.4,762.9 L427.7,763.2 L428.9,763.6 L430.2,764.0 L431.5,764.3 L432.8,764.7 L434.0,765.0 L435.3,765.4 L436.6,765.7 L437.9,766.1 L439.1,766.4 L440.4,766.8 L441.7,767.2 L443.0,767.5 L444.2,767.9 L445.5,768.2 L446.8,768.6 L448.1,768.9 L449.3,769.3 L450.6,769.6 L451.9,770.0 L453.2,770.3 L454.5,770.7 L455.7,771.0 L457.0,771.4 L458.3,771.7 L459.6,772.1 L460.8,772.4 L462.1,772.8 L463.4,773.1 L464.7,773.5 L465.9,773.8 L467.2,774.2 L468.5,774.5 L469.8,774.9 L471.0,775.2 L472.3,775.6 L473.6,775.9 L474.9,776.3 L476.1,776.6 L477.4,777.0 L478.7,777.3 L480.0,777.7 L481.2,778.0 L482.5,778.4 L483.8,778.7 L485.1,779.1 L486.3,779.4 L487.6,779.8 L488.9,780.1 L490.2,780.5 L491.4,780.8 L492.7,781.2 L494.0,781.5 L495.3,781.9 L496.5,782.2 L497.8,782.6 L499.1,782.9 L500.4,783.3 L501.6,783.6 L502.9,784.0 L504.2,784.4 L505.5,784.7" fill="none" stroke="#000" stroke-width="2.3" stroke-linejoin="round"/>
<path d="M123.6,581.8 L124.9,586.0 L126.2,590.1 L127.5,593.9 L128.8,597.7 L130.1,601.3 L131.4,604.7 L132.7,608.0 L133.9,611.2 L135.2,614.3 L136.5,617.2 L137.8,620.0 L139.1,622.7 L140.4,625.3 L141.7,627.8 L143.0,630.2 L144.2,632.4 L145.5,634.6 L146.8,636.7 L148.1,638.7 L149.4,640.6 L150.7,642.4 L151.9,644.1 L153.2,645.8 L154.5,647.4 L155.8,649.0 L157.1,650.5 L158.4,651.9 L159.6,653.2 L160.9,654.6 L162.2,655.8 L163.5,657.1 L164.8,658.3 L166.0,659.4 L167.3,660.6 L168.6,661.7 L169.9,662.8 L171.2,663.8 L172.4,664.9 L173.7,665.9 L175.0,667.0 L176.3,668.0 L177.5,669.0 L178.8,670.0 L180.1,671.0 L181.4,672.0 L182.7,673.0 L183.9,673.9 L185.2,674.9 L186.5,675.8 L187.8,676.7 L189.1,677.6 L190.3,678.5 L191.6,679.3 L192.9,680.2 L194.2,681.0 L195.4,681.8 L196.7,682.5 L198.0,683.3 L199.3,684.0 L200.6,684.8 L201.8,685.5 L203.1,686.2 L204.4,686.9 L205.7,687.7 L206.9,688.4 L208.2,689.1 L209.5,689.8 L210.8,690.5 L212.1,691.1 L213.3,691.8 L214.6,692.5 L215.9,693.2 L217.2,693.8 L218.4,694.5 L219.7,695.2 L221.0,695.8 L222.3,696.5 L223.5,697.1 L224.8,697.7 L226.1,698.4 L227.4,699.0 L228.7,699.6 L229.9,700.2 L231.2,700.8 L232.5,701.5 L233.8,702.1 L235.0,702.7 L236.3,703.3 L237.6,703.9 L238.9,704.4 L240.1,705.0 L241.4,705.6 L242.7,706.2 L244.0,706.7 L245.2,707.3 L246.5,707.9 L247.8,708.4 L249.1,709.0 L250.4,709.5 L251.6,710.1 L252.9,710.6 L254.2,711.2 L255.5,711.7 L256.7,712.2 L258.0,712.8 L259.3,713.3 L260.6,713.8 L261.8,714.3 L263.1,714.8 L264.4,715.3 L265.7,715.9 L266.9,716.4 L268.2,716.9 L269.5,717.4 L270.8,717.8 L272.1,718.3 L273.3,718.8 L274.6,719.3 L275.9,719.8 L277.2,720.3 L278.4,720.7 L279.7,721.2 L281.0,721.7 L282.3,722.1 L283.5,722.6 L284.8,723.1 L286.1,723.5 L287.4,724.0 L288.6,724.4 L289.9,724.9 L291.2,725.3 L292.5,725.8 L293.7,726.2 L295.0,726.7 L296.3,727.1 L297.6,727.5 L298.8,728.0 L300.1,728.4 L301.4,728.8 L302.7,729.3 L304.0,729.7 L305.2,730.1 L306.5,730.5 L307.8,731.0 L309.1,731.4 L310.3,731.8 L311.6,732.2 L312.9,732.6 L314.2,733.0 L315.4,733.4 L316.7,733.8 L318.0,734.2 L319.3,734.7 L320.5,735.1 L321.8,735.5 L323.1,735.9 L324.4,736.3 L325.6,736.7 L326.9,737.1 L328.2,737.5 L329.5,737.9 L330.7,738.3 L332.0,738.7 L333.3,739.0 L334.6,739.4 L335.8,739.8 L337.1,740.2 L338.4,740.6 L339.7,741.0 L340.9,741.4 L342.2,741.8 L343.5,742.2 L344.8,742.6 L346.0,743.0 L347.3,743.4 L348.6,743.7 L349.9,744.1 L351.2,744.5 L352.4,744.9 L353.7,745.3 L355.0,745.7 L356.3,746.1 L357.5,746.5 L358.8,746.9 L360.1,747.3 L361.4,747.6 L362.6,748.0 L363.9,748.4 L365.2,748.8 L366.5,749.2 L367.7,749.6 L369.0,750.0 L370.3,750.4 L371.6,750.8 L372.8,751.2 L374.1,751.6 L375.4,752.0 L376.7,752.4 L377.9,752.8 L379.2,753.2 L380.5,753.6 L381.8,754.0 L383.0,754.4 L384.3,754.8 L385.6,755.3 L386.9,755.7 L388.1,756.1 L389.4,756.5 L390.7,756.9 L392.0,757.3 L393.3,757.7 L394.5,758.2 L395.8,758.6 L397.1,759.0 L398.4,759.4 L399.6,759.9 L400.9,760.3 L402.2,760.7 L403.5,761.2 L404.7,761.6 L406.0,762.0 L407.3,762.5 L408.6,762.9 L409.8,763.3 L411.1,763.8 L412.4,764.2 L413.7,764.6 L414.9,765.1 L416.2,765.5 L417.5,766.0 L418.8,766.4 L420.0,766.9 L421.3,767.3 L422.6,767.7 L423.9,768.2 L425.1,768.6 L426.4,769.1 L427.7,769.5 L429.0,770.0 L430.3,770.4 L431.5,770.8 L432.8,771.3 L434.1,771.7 L435.4,772.2 L436.6,772.6 L437.9,773.1 L439.2,773.5 L440.5,774.0 L441.7,774.4 L443.0,774.8 L444.3,775.3 L445.6,775.7 L446.8,776.2 L448.1,776.6 L449.4,777.0 L450.7,777.5 L451.9,777.9 L453.2,778.3 L454.5,778.8 L455.8,779.2 L457.0,779.7 L458.3,780.1 L459.6,780.5 L460.9,780.9 L462.1,781.4 L463.4,781.8 L464.7,782.2 L466.0,782.7 L467.3,783.1 L468.5,783.5 L469.8,783.9 L471.1,784.3 L472.4,784.8 L473.6,785.2 L474.9,785.6 L476.2,786.0 L477.5,786.4 L478.7,786.8 L480.0,787.2 L481.3,787.6 L482.6,788.0 L483.8,788.4 L485.1,788.8 L486.4,789.2 L487.7,789.6 L488.9,790.0 L490.2,790.4 L491.5,790.8 L492.8,791.2 L494.0,791.5 L495.3,791.9 L496.6,792.3 L497.9,792.7 L499.1,793.0 L500.4,793.4 L501.7,793.8 L503.0,794.1 L504.2,794.5 L505.5,794.8" fill="none" stroke="#000" stroke-width="2.3" stroke-linejoin="round"/>
<path d="M123.6,581.8 L124.1,592.1 L124.6,596.6 L125.1,599.7 L125.6,602.4 L126.1,605.0 L126.6,607.6 L127.1,610.1 L127.6,612.5 L128.1,614.9 L128.6,617.2 L129.1,619.4 L129.6,621.6 L130.1,623.8 L130.6,625.9 L131.1,627.9 L131.6,629.9 L132.1,631.8 L132.5,633.7 L133.0,635.6 L133.5,637.4 L134.0,639.2 L134.5,640.9 L135.0,642.5 L135.5,644.2 L136.0,645.8 L136.5,647.3 L137.0,648.8 L137.5,650.3 L137.9,651.7 L138.4,653.1 L138.9,654.5 L139.4,655.9 L139.9,657.2 L140.4,658.4 L140.9,659.7 L141.4,660.9 L141.9,662.0 L142.3,663.2 L142.8,664.3 L143.3,665.4 L143.8,666.5 L144.3,667.5 L144.8,668.5 L145.3,669.5 L145.8,670.5 L146.2,671.5 L146.7,672.4 L147.2,673.3 L147.7,674.2 L148.2,675.0 L148.7,675.9 L149.2,676.7 L149.6,677.5 L150.1,678.3 L150.6,679.1 L151.1,679.8 L151.6,680.6 L152.1,681.3 L152.6,682.0 L153.1,682.7 L153.5,683.4 L154.0,684.0 L154.5,684.7 L155.0,685.3 L155.5,685.9 L156.0,686.6 L156.4,687.2 L156.9,687.8 L157.4,688.3 L157.9,688.9 L158.4,689.5 L158.9,690.0 L159.4,690.6 L159.8,691.1 L160.3,691.6 L160.8,692.1 L161.3,692.6 L161.8,693.1 L162.3,693.6 L162.7,694.1 L165.6,696.8 L168.5,699.4 L171.4,701.7 L174.3,703.9 L177.2,706.0 L180.1,708.1 L183.0,710.0 L185.8,711.9 L188.7,713.7 L191.6,715.5 L194.5,717.3 L197.4,719.0 L200.3,720.7 L203.2,722.4 L206.0,724.1 L208.9,725.7 L211.8,727.4 L214.7,729.1 L217.6,730.7 L220.5,732.4 L223.4,734.0 L226.2,735.6 L229.1,737.3 L232.0,738.9 L234.9,740.5 L237.8,742.2 L240.7,743.8 L243.5,745.4 L246.4,747.1 L249.3,748.7 L252.2,750.3 L255.1,752.0 L258.0,753.6 L260.8,755.2 L263.7,756.8 L266.6,758.5 L269.5,760.1 L272.4,761.7 L275.3,763.3 L278.2,765.0 L281.0,766.6 L283.9,768.2 L286.8,769.8 L289.7,771.5 L292.6,773.1 L295.5,774.7 L298.3,776.4 L301.2,778.0 L304.1,779.6 L307.0,781.2 L309.9,782.9 L312.8,784.5 L315.7,786.1 L318.5,787.7 L321.4,789.4 L324.3,791.0 L327.2,792.6 L330.1,794.2 L333.0,795.9 L335.8,797.5 L338.7,799.1 L341.6,800.8 L344.5,802.4 L347.4,804.0 L350.3,805.6 L353.2,807.3 L356.0,808.9 L358.9,810.5 L361.8,812.1 L364.7,813.8 L367.6,815.4 L370.5,817.0 L373.3,818.6 L376.2,820.3 L379.1,821.9 L382.0,823.5 L384.9,825.1 L387.8,826.8 L390.7,828.4 L393.5,830.0 L396.4,831.7 L399.3,833.3 L402.2,834.9 L405.1,836.5 L408.0,838.2 L410.8,839.8 L413.7,841.4 L416.6,843.0 L419.5,844.7 L422.4,846.3 L425.3,847.9 L428.2,849.5 L431.0,851.2 L433.9,852.8 L436.8,854.4 L439.7,856.0 L442.6,857.7 L445.5,859.3 L448.3,860.9 L451.2,862.6 L454.1,864.2 L457.0,865.8 L459.9,867.4 L462.8,869.1 L465.7,870.7 L468.5,872.3 L471.4,873.9 L474.3,875.6 L477.2,877.2 L480.1,878.8 L483.0,880.4 L485.8,882.1 L488.7,883.7 L491.6,885.3 L494.5,886.9 L497.4,888.6 L500.3,890.2 L503.2,891.8 L506.0,893.5" fill="none" stroke="#000" stroke-width="2.3" stroke-linejoin="round"/>
<polygon points="126.0,24.8 131.1,34.7 120.9,34.7" class="m"/>
<polygon points="135.2,44.3 140.3,54.2 130.1,54.2" class="m"/>
<polygon points="145.1,56.3 150.2,66.2 140.0,66.2" class="m"/>
<polygon points="155.0,76.8 160.1,86.7 149.9,86.7" class="m"/>
<polygon points="174.0,99.3 179.1,109.2 168.9,109.2" class="m"/>
<polygon points="193.4,110.3 198.5,120.2 188.3,120.2" class="m"/>
<polygon points="231.6,139.8 236.7,149.7 226.5,149.7" class="m"/>
<polygon points="289.3,184.8 294.4,194.7 284.2,194.7" class="m"/>
<polygon points="347.0,215.8 352.1,225.7 341.9,225.7" class="m"/>
<polygon points="404.5,219.8 409.6,229.7 399.4,229.7" class="m"/>
<rect x="119.0" y="48.7" width="10" height="10" class="m"/>
<rect x="128.2" y="80.0" width="10" height="10" class="m"/>
<rect x="132.0" y="88.5" width="10" height="10" class="m"/>
<rect x="140.0" y="99.0" width="10" height="10" class="m"/>
<rect x="170.5" y="124.0" width="10" height="10" class="m"/>
<rect x="188.4" y="131.3" width="10" height="10" class="m"/>
<rect x="226.6" y="153.8" width="10" height="10" class="m"/>
<rect x="284.3" y="194.5" width="10" height="10" class="m"/>
<rect x="342.0" y="223.5" width="10" height="10" class="m"/>
<rect x="399.5" y="237.9" width="10" height="10" class="m"/>
<circle cx="128.5" cy="32.5" r="5" class="m"/>
<circle cx="137.0" cy="73.0" r="5" class="m"/>
<circle cx="146.0" cy="103.0" r="5" class="m"/>
<circle cx="156.5" cy="100.0" r="5" class="m"/>
<circle cx="175.8" cy="126.5" r="5" class="m"/>
<circle cx="193.4" cy="150.0" r="5" class="m"/>
<circle cx="231.6" cy="170.5" r="5" class="m"/>
<circle cx="289.3" cy="221.7" r="5" class="m"/>
<circle cx="347.0" cy="246.4" r="5" class="m"/>
<circle cx="404.5" cy="268.3" r="5" class="m"/>
<polygon points="126.0,56.8 131.4,62.0 126.0,67.2 120.6,62.0" class="m"/>
<polygon points="136.0,78.8 141.4,84.0 136.0,89.2 130.6,84.0" class="m"/>
<polygon points="147.0,104.8 152.4,110.0 147.0,115.2 141.6,110.0" class="m"/>
<polygon points="173.3,133.3 178.7,138.5 173.3,143.7 167.9,138.5" class="m"/>
<polygon points="193.4,157.8 198.8,163.0 193.4,168.2 188.0,163.0" class="m"/>
<polygon points="231.6,183.3 237.0,188.5 231.6,193.7 226.2,188.5" class="m"/>
<polygon points="289.3,211.0 294.7,216.2 289.3,221.4 283.9,216.2" class="m"/>
<polygon points="347.0,253.7 352.4,258.9 347.0,264.1 341.6,258.9" class="m"/>
<polygon points="404.5,282.7 409.9,287.9 404.5,293.1 399.1,287.9" class="m"/>
<rect x="115.8" y="35.9" width="12.4" height="4.2" fill="#000"/><rect x="119.9" y="31.7" width="4.2" height="12.6" fill="#000"/>
<rect x="123.8" y="59.9" width="12.4" height="4.2" fill="#000"/><rect x="127.9" y="55.7" width="4.2" height="12.6" fill="#000"/>
<rect x="131.8" y="83.9" width="12.4" height="4.2" fill="#000"/><rect x="135.9" y="79.7" width="4.2" height="12.6" fill="#000"/>
<rect x="139.8" y="105.9" width="12.4" height="4.2" fill="#000"/><rect x="143.9" y="101.7" width="4.2" height="12.6" fill="#000"/>
<rect x="147.8" y="108.9" width="12.4" height="4.2" fill="#000"/><rect x="151.9" y="104.7" width="4.2" height="12.6" fill="#000"/>
<rect x="169.3" y="129.9" width="12.4" height="4.2" fill="#000"/><rect x="173.4" y="125.7" width="4.2" height="12.6" fill="#000"/>
<rect x="187.2" y="143.9" width="12.4" height="4.2" fill="#000"/><rect x="191.3" y="139.7" width="4.2" height="12.6" fill="#000"/>
<rect x="225.4" y="171.9" width="12.4" height="4.2" fill="#000"/><rect x="229.5" y="167.7" width="4.2" height="12.6" fill="#000"/>
<rect x="283.1" y="203.9" width="12.4" height="4.2" fill="#000"/><rect x="287.2" y="199.7" width="4.2" height="12.6" fill="#000"/>
<rect x="340.8" y="230.9" width="12.4" height="4.2" fill="#000"/><rect x="344.9" y="226.7" width="4.2" height="12.6" fill="#000"/>
<rect x="398.3" y="253.5" width="12.4" height="4.2" fill="#000"/><rect x="402.4" y="249.3" width="4.2" height="12.6" fill="#000"/>
<rect x="110.2" y="0.4" width="12.6" height="12.4" fill="#000"/>
<circle cx="132.0" cy="600.4" r="5" class="m"/>
<circle cx="143.6" cy="613.3" r="5" class="m"/>
<circle cx="152.0" cy="621.0" r="5" class="m"/>
<circle cx="162.4" cy="635.5" r="5" class="m"/>
<circle cx="180.5" cy="656.5" r="5" class="m"/>
<circle cx="199.5" cy="672.0" r="5" class="m"/>
<circle cx="237.7" cy="689.5" r="5" class="m"/>
<circle cx="295.0" cy="720.0" r="5" class="m"/>
<circle cx="352.3" cy="742.5" r="5" class="m"/>
<circle cx="409.6" cy="758.5" r="5" class="m"/>
<polygon points="133.0,596.8 138.1,606.7 127.9,606.7" class="m"/>
<polygon points="142.5,607.8 147.6,617.7 137.4,617.7" class="m"/>
<polygon points="151.3,615.8 156.4,625.7 146.2,625.7" class="m"/>
<polygon points="161.6,629.8 166.7,639.7 156.5,639.7" class="m"/>
<polygon points="180.5,650.3 185.6,660.2 175.4,660.2" class="m"/>
<polygon points="199.5,666.8 204.6,676.7 194.4,676.7" class="m"/>
<polygon points="237.7,691.8 242.8,701.7 232.6,701.7" class="m"/>
<polygon points="295.0,710.8 300.1,720.7 289.9,720.7" class="m"/>
<polygon points="352.3,739.8 357.4,749.7 347.2,749.7" class="m"/>
<polygon points="409.6,745.8 414.7,755.7 404.5,755.7" class="m"/>
<polygon points="132.0,613.1 137.4,618.3 132.0,623.5 126.6,618.3" class="m"/>
<polygon points="142.2,624.1 147.6,629.3 142.2,634.5 136.8,629.3" class="m"/>
<polygon points="150.4,631.2 155.8,636.4 150.4,641.6 145.0,636.4" class="m"/>
<polygon points="161.0,646.6 166.4,651.8 161.0,657.0 155.6,651.8" class="m"/>
<polygon points="180.5,652.3 185.9,657.5 180.5,662.7 175.1,657.5" class="m"/>
<polygon points="199.5,669.3 204.9,674.5 199.5,679.7 194.1,674.5" class="m"/>
<polygon points="237.7,699.8 243.1,705.0 237.7,710.2 232.3,705.0" class="m"/>
<polygon points="295.0,729.8 300.4,735.0 295.0,740.2 289.6,735.0" class="m"/>
<polygon points="352.3,745.8 357.7,751.0 352.3,756.2 346.9,751.0" class="m"/>
<polygon points="409.6,755.8 415.0,761.0 409.6,766.2 404.2,761.0" class="m"/>
<line x1="130.6" y1="620.5" x2="130.6" y2="638.3" stroke="#000" stroke-width="1.6"/><line x1="124.3" y1="620.5" x2="136.8" y2="620.5" stroke="#000" stroke-width="1.6"/><line x1="124.3" y1="638.3" x2="136.8" y2="638.3" stroke="#000" stroke-width="1.6"/>
<line x1="141.8" y1="653.5" x2="141.8" y2="681.3" stroke="#000" stroke-width="1.6"/><line x1="135.6" y1="653.5" x2="148.1" y2="653.5" stroke="#000" stroke-width="1.6"/><line x1="135.6" y1="681.3" x2="148.1" y2="681.3" stroke="#000" stroke-width="1.6"/>
<line x1="151.9" y1="667.9" x2="151.9" y2="697.2" stroke="#000" stroke-width="1.6"/><line x1="145.7" y1="667.9" x2="158.2" y2="667.9" stroke="#000" stroke-width="1.6"/><line x1="145.7" y1="697.2" x2="158.2" y2="697.2" stroke="#000" stroke-width="1.6"/>
<line x1="180.6" y1="693.5" x2="180.6" y2="721.0" stroke="#000" stroke-width="1.6"/><line x1="174.3" y1="693.5" x2="186.8" y2="693.5" stroke="#000" stroke-width="1.6"/><line x1="174.3" y1="721.0" x2="186.8" y2="721.0" stroke="#000" stroke-width="1.6"/>
<line x1="295.0" y1="757.7" x2="295.0" y2="794.9" stroke="#000" stroke-width="1.6"/><line x1="288.8" y1="757.7" x2="301.2" y2="757.7" stroke="#000" stroke-width="1.6"/><line x1="288.8" y1="794.9" x2="301.2" y2="794.9" stroke="#000" stroke-width="1.6"/>
<line x1="352.4" y1="793.2" x2="352.4" y2="827.7" stroke="#000" stroke-width="1.6"/><line x1="346.1" y1="793.2" x2="358.6" y2="793.2" stroke="#000" stroke-width="1.6"/><line x1="346.1" y1="827.7" x2="358.6" y2="827.7" stroke="#000" stroke-width="1.6"/>
<rect x="124.4" y="627.4" width="12.4" height="4.2" fill="#000"/><rect x="128.5" y="623.2" width="4.2" height="12.6" fill="#000"/>
<rect x="135.6" y="664.8" width="12.4" height="4.2" fill="#000"/><rect x="139.7" y="660.6" width="4.2" height="12.6" fill="#000"/>
<rect x="145.7" y="680.7" width="12.4" height="4.2" fill="#000"/><rect x="149.8" y="676.5" width="4.2" height="12.6" fill="#000"/>
<rect x="155.3" y="684.1" width="12.4" height="4.2" fill="#000"/><rect x="159.4" y="679.9" width="4.2" height="12.6" fill="#000"/>
<rect x="174.4" y="705.2" width="12.4" height="4.2" fill="#000"/><rect x="178.5" y="701.0" width="4.2" height="12.6" fill="#000"/>
<rect x="193.4" y="719.8" width="12.4" height="4.2" fill="#000"/><rect x="197.5" y="715.6" width="4.2" height="12.6" fill="#000"/>
<rect x="231.5" y="747.5" width="12.4" height="4.2" fill="#000"/><rect x="235.6" y="743.3" width="4.2" height="12.6" fill="#000"/>
<rect x="288.8" y="773.1" width="12.4" height="4.2" fill="#000"/><rect x="292.9" y="768.9" width="4.2" height="12.6" fill="#000"/>
<rect x="346.2" y="807.6" width="12.4" height="4.2" fill="#000"/><rect x="350.3" y="803.4" width="4.2" height="12.6" fill="#000"/>
<rect x="403.8" y="827.9" width="12.4" height="4.2" fill="#000"/><rect x="407.9" y="823.7" width="4.2" height="12.6" fill="#000"/>
<circle cx="122.8" cy="581.8" r="6.6" fill="#000"/>
<text x="97.1" y="18.8" text-anchor="end" class="t">100</text>
<text x="97.2" y="43.7" text-anchor="end" class="t">90</text>
<text x="97.3" y="71.6" text-anchor="end" class="t">80</text>
<text x="97.5" y="103.1" text-anchor="end" class="t">70</text>
<text x="97.7" y="139.6" text-anchor="end" class="t">60</text>
<text x="97.9" y="182.7" text-anchor="end" class="t">50</text>
<text x="98.1" y="235.5" text-anchor="end" class="t">40</text>
<text x="98.4" y="302.5" text-anchor="end" class="t">30</text>
<text x="98.9" y="399.4" text-anchor="end" class="t">20</text>
<text x="118.3" y="425.6" text-anchor="middle" class="t">0</text>
<text x="214.0" y="425.1" text-anchor="middle" class="t">10</text>
<text x="309.6" y="424.7" text-anchor="middle" class="t">20</text>
<text x="405.3" y="424.2" text-anchor="middle" class="t">30</text>
<text x="501.0" y="423.8" text-anchor="middle" class="t">40</text>
<text x="103.6" y="594.8" text-anchor="end" class="t">100</text>
<text x="103.7" y="619.7" text-anchor="end" class="t">90</text>
<text x="103.9" y="647.4" text-anchor="end" class="t">80</text>
<text x="104.0" y="678.9" text-anchor="end" class="t">70</text>
<text x="104.2" y="715.3" text-anchor="end" class="t">60</text>
<text x="104.5" y="758.3" text-anchor="end" class="t">50</text>
<text x="104.7" y="811.0" text-anchor="end" class="t">40</text>
<text x="105.1" y="878.8" text-anchor="end" class="t">30</text>
<text x="105.6" y="974.5" text-anchor="end" class="t">20</text>
<text x="125.6" y="999.8" text-anchor="middle" class="t">0</text>
<text x="220.8" y="999.3" text-anchor="middle" class="t">10</text>
<text x="316.0" y="998.8" text-anchor="middle" class="t">20</text>
<text x="411.2" y="998.3" text-anchor="middle" class="t">30</text>
<text x="506.4" y="997.8" text-anchor="middle" class="t">40</text>
<text x="-0.8" y="18.6" class="b">A</text>
<text x="-2.2" y="549.6" class="b">B</text>
<text x="310.3" y="472.8" text-anchor="middle" class="h">Time (min)</text>
<text x="315.3" y="1047" text-anchor="middle" class="h" style="font-size:24px">Time (min)</text>
<text transform="translate(19.6,196.6) rotate(-90)" text-anchor="middle" class="h">% FVa activity</text>
<text transform="translate(26.2,771.9) rotate(-90)" text-anchor="middle" class="h">% FVa activity</text>
</svg>
</body></html>
